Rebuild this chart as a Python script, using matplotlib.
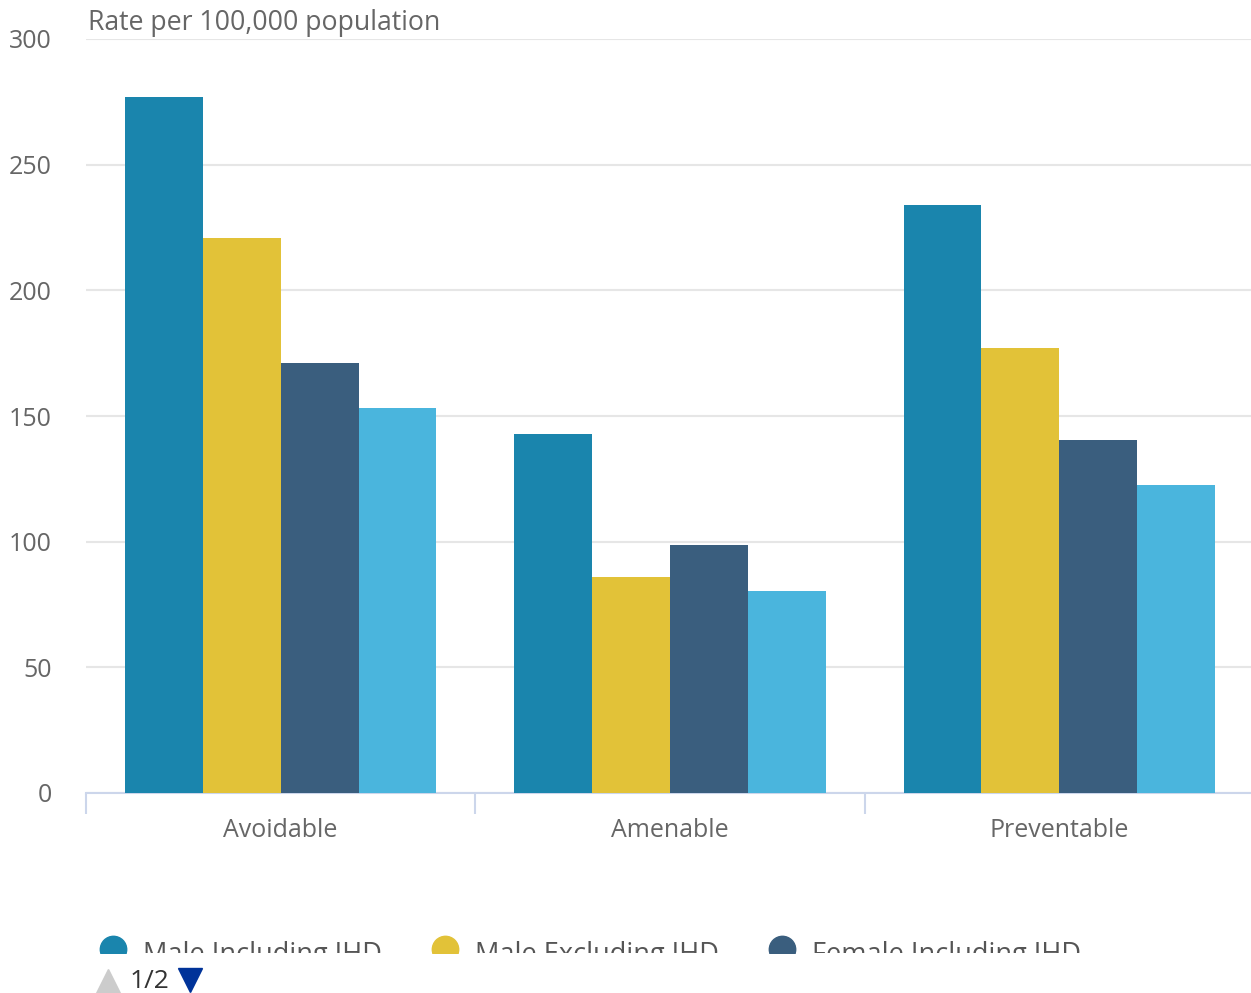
import matplotlib
matplotlib.use("Agg")
import matplotlib.pyplot as plt
import numpy as np
from matplotlib.lines import Line2D
from matplotlib.patches import Rectangle

categories = ["Avoidable", "Amenable", "Preventable"]
series_names = ["Male Including IHD", "Male Excluding IHD", "Female Including IHD", "Female Excluding IHD"]
values = [
    [277, 143, 234],    # Male Including IHD
    [221, 86, 177],     # Male Excluding IHD
    [171, 98.5, 140.5], # Female Including IHD
    [153, 80.5, 122.5], # Female Excluding IHD
]
colors = ["#1a85ad", "#e2c238", "#3a5e7e", "#4ab5dd"]
yticks = [0, 50, 100, 150, 200, 250, 300]

plt.rcParams["font.family"] = ["Open Sans", "DejaVu Sans"]

W, H = 1251, 993
fig = plt.figure(figsize=(W / 100, H / 100), dpi=100)
ax = fig.add_axes([86 / W, 1 - 793 / H, 1168 / W, (793 - 39) / H])

x = np.arange(len(categories))
bw = 0.2
for i, (name, vals) in enumerate(zip(series_names, values)):
    ax.bar(x - 0.3 + i * bw, vals, width=bw, color=colors[i], label=name, zorder=3)

ax.set_xlim(-0.5, 2.5)
ax.set_ylim(0, 300)
ax.set_yticks(yticks)
ax.set_yticklabels([str(t) for t in yticks], fontsize=18, color="#666666")
ax.tick_params(axis="y", length=0, pad=24.5)
ax.grid(axis="y", color="#e6e6e6", linewidth=1.5, zorder=0)

# category axis with boundary ticks
ax.set_xticks(x)
ax.set_xticklabels(categories, fontsize=18, color="#666666")
ax.tick_params(axis="x", length=0, pad=18)
ax.set_xticks([-0.5, 0.5, 1.5], minor=True)
ax.tick_params(axis="x", which="minor", length=15, width=1.5, color="#ccd6eb")

for side in ["top", "right", "left"]:
    ax.spines[side].set_visible(False)
ax.spines["bottom"].set_color("#ccd6eb")
ax.spines["bottom"].set_linewidth(1.5)

fig.text(88 / W, 1 - 23 / H, "Rate per 100,000 population", fontsize=19.2,
         color="#666666", va="center", ha="left")

# paged legend, first page cut off at the bottom edge
clip = Rectangle((0, 1 - 953 / H), 1, 0.1, transform=fig.transFigure, visible=False)
fig.add_artist(clip)
legend_x = [113, 445, 782]
for lx, name, c in zip(legend_x, series_names[:3], colors[:3]):
    dot = Line2D([lx / W], [1 - 949 / H], marker="o", markersize=19, color=c,
                 linestyle="none", transform=fig.transFigure)
    fig.add_artist(dot)
    dot.set_clip_path(clip)
    t = fig.text((lx + 30) / W, 1 - 955 / H, name, fontsize=19.5, color="#555555",
                 ha="left", va="center")
    t.set_clip_path(clip)

fig.add_artist(Line2D([108 / W], [1 - 981 / H], marker="^", markersize=17, color="#cccccc",
                      linestyle="none", transform=fig.transFigure))
fig.add_artist(Line2D([190 / W], [1 - 980 / H], marker="v", markersize=17, color="#003399",
                      linestyle="none", transform=fig.transFigure))
fig.text(150 / W, 1 - 981 / H, "1/2", fontsize=19, color="#333333", ha="center", va="center")

fig.savefig("out.png", dpi=100)
plt.close(fig)
